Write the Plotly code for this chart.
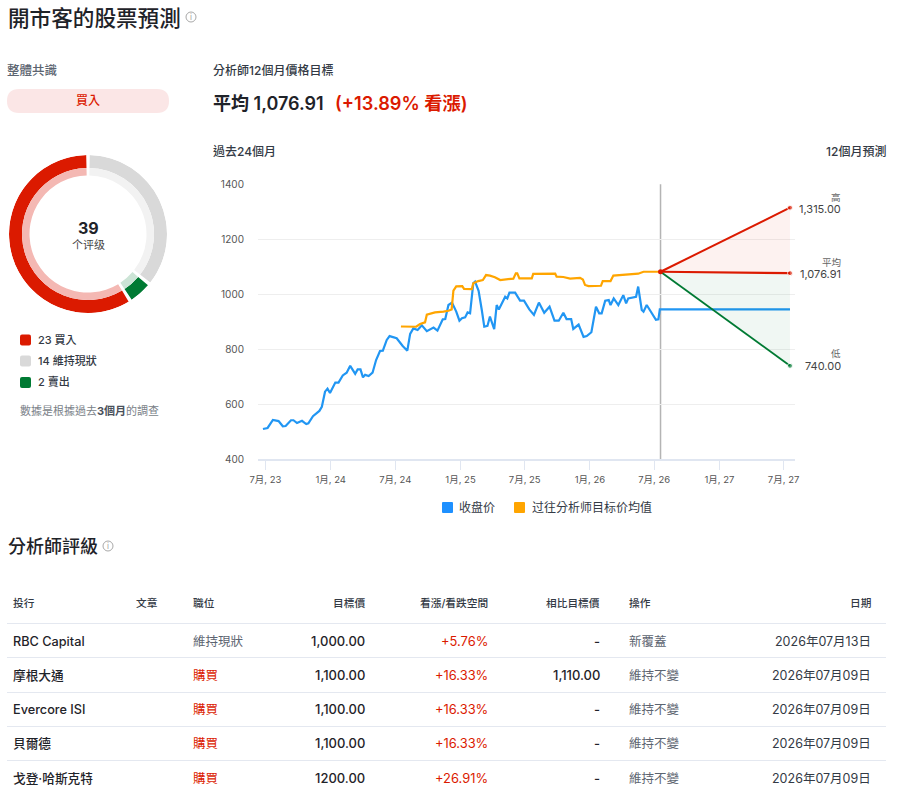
import pandas as pd
import plotly.graph_objects as go

W, H = 898, 793
FONT = "Inter, 'Noto Sans CJK TC', sans-serif"
RED = "#db1a00"
GREEN = "#007a33"
BLUE = "#2196f3"
ORANGE = "#ffa500"
INK = "#1f2329"
MUTED = "#5c6470"
RULE = "#e4e8f0"

# Consensus counts
rating_names = ["維持現狀", "賣出", "買入"]
rating_counts = [14, 2, 23]
rating_solid = ["#d9d9d9", GREEN, RED]
rating_light = ["#f2f2f2", "#cce4d6", "#f4b8b3"]

# Price history, as days after 1 July 2023
close_days = [-7, 6, 21, 27, 37, 49, 57, 72, 79, 89, 103, 115, 121, 134, 152, 159, 168, 175, 182, 197,
              206, 218, 229, 239, 253, 260, 268, 275, 281, 291, 302, 312, 323, 331, 342, 350, 370, 387, 400, 408,
              417, 429, 441, 455, 474, 485, 500, 507, 516, 526, 538, 547, 554, 563, 570, 577, 586, 591, 601, 610,
              617, 626, 633, 645, 652, 658, 676, 682, 688, 704, 718, 729, 744, 757, 771, 786, 801, 815, 827, 840,
              849, 862, 868, 883, 897, 906, 919, 932, 941, 948, 958, 968, 973, 982, 995, 1009, 1017, 1023, 1045, 1051,
              1061, 1066, 1075, 1101, 1108, 1112, 1114, 1479]
close_values = [510, 514, 543, 542, 539, 520, 521, 542, 542, 532, 540, 528, 531, 557, 576, 591, 646, 657, 641, 679,
                679, 705, 715, 740, 711, 727, 727, 698, 707, 703, 715, 761, 794, 795, 834, 848, 840, 812, 795, 856,
                876, 870, 887, 866, 879, 868, 909, 910, 961, 970, 937, 904, 913, 916, 934, 931, 1040, 1046, 1013, 943,
                882, 885, 919, 873, 961, 945, 991, 985, 1006, 1006, 977, 977, 945, 925, 970, 933, 955, 904, 904, 933,
                910, 910, 874, 890, 845, 848, 862, 955, 931, 931, 977, 979, 961, 985, 961, 997, 967, 985, 991, 1028,
                943, 937, 961, 907, 909, 945.5, 945.5, 945.5]

target_days = [382, 403, 425, 436, 450, 455, 478, 502, 516, 525, 530, 538, 555, 560, 582, 586, 600, 613, 622, 633,
               647, 662, 680, 699, 706, 710, 716, 751, 755, 817, 821, 840, 859, 887, 895, 901, 911, 946, 951, 973,
               981, 1009, 1037, 1051, 1066, 1108, 1114]
target_values = [883, 882, 882, 892, 898, 926, 934, 937, 940, 945, 1013, 1029, 1030, 1020, 1019, 1040, 1048, 1052, 1070, 1068,
                 1062, 1052, 1054, 1057, 1076, 1076, 1058, 1058, 1074, 1075, 1064, 1063, 1057, 1060, 1054, 1034, 1030, 1031, 1048, 1048,
                 1068, 1070, 1074, 1075, 1082, 1083, 1082]

# Twelve-month forecast
forecast_days = [1114, 1479]
forecast_start = 1082
forecast_high = 1315.00
forecast_mean = 1076.91
forecast_low = 740.00

x_tick_dates = ["2023-07-01", "2024-01-01", "2024-07-01", "2025-01-01", "2025-07-01",
                "2026-01-01", "2026-07-01", "2027-01-01", "2027-07-01"]
x_tick_labels = ["7月, 23", "1月, 24", "7月, 24", "1月, 25", "7月, 25", "1月, 26", "7月, 26", "1月, 27", "7月, 27"]
y_tick_values = [400, 600, 800, 1000, 1200, 1400]

# Analyst table
table_headers = ["投行", "文章", "職位", "目標價", "看漲/看跌空間", "相比目標價", "操作", "日期"]
firms = ["RBC Capital", "摩根大通", "Evercore ISI", "貝爾德", "戈登·哈斯克特"]
positions = ["維持現狀", "購買", "購買", "購買", "購買"]
targets = ["1,000.00", "1,100.00", "1,100.00", "1,100.00", "1200.00"]
upsides = ["+5.76%", "+16.33%", "+16.33%", "+16.33%", "+26.91%"]
prior_targets = ["-", "1,110.00", "-", "-", "-"]
actions = ["新覆蓋", "維持不變", "維持不變", "維持不變", "維持不變"]
dates = ["2026年07月13日", "2026年07月09日", "2026年07月09日", "2026年07月09日", "2026年07月09日"]


def to_dates(days):
    return pd.Timestamp("2023-07-01") + pd.to_timedelta(days, unit="D")


def px(x):
    return x / W


def py(y):
    return 1 - y / H


annotations = []
shapes = []


def label(x, y, text, size=12, color=INK, weight=400, anchor="left"):
    annotations.append(dict(
        x=px(x), y=py(y), xref="paper", yref="paper", xanchor=anchor, yanchor="middle",
        text=text, showarrow=False, borderpad=0, borderwidth=0,
        font=dict(family=FONT, size=size, color=color, weight=weight),
    ))


def rounded(x0, y0, x1, y1, r, color):
    path = (f"M {px(x0 + r)} {py(y0)} L {px(x1 - r)} {py(y0)} Q {px(x1)} {py(y0)} {px(x1)} {py(y0 + r)} "
            f"L {px(x1)} {py(y1 - r)} Q {px(x1)} {py(y1)} {px(x1 - r)} {py(y1)} "
            f"L {px(x0 + r)} {py(y1)} Q {px(x0)} {py(y1)} {px(x0)} {py(y1 - r)} "
            f"L {px(x0)} {py(y0 + r)} Q {px(x0)} {py(y0)} {px(x0 + r)} {py(y0)} Z")
    shapes.append(dict(type="path", path=path, xref="paper", yref="paper",
                       fillcolor=color, line=dict(width=0), layer="below"))


def info_icon(x, y):
    shapes.append(dict(type="circle", xref="paper", yref="paper",
                       x0=px(x - 5), x1=px(x + 5), y0=py(y + 5), y1=py(y - 5),
                       line=dict(color="#a8a8a8", width=1)))
    label(x, y, "i", size=8, color="#a0a0a0", anchor="center")


def hrule(y):
    shapes.append(dict(type="line", xref="paper", yref="paper", x0=px(7), x1=px(886), y0=py(y), y1=py(y),
                       line=dict(color=RULE, width=1)))


fig = go.Figure()

# Price chart
fig.add_trace(go.Scatter(x=to_dates(close_days), y=close_values, mode="lines", name="收盘价",
                         line=dict(color=BLUE, width=2.2), xaxis="x", yaxis="y"))
fig.add_trace(go.Scatter(x=to_dates(target_days), y=target_values, mode="lines", name="过往分析师目标价均值",
                         line=dict(color=ORANGE, width=2.2), xaxis="x", yaxis="y"))
fig.add_trace(go.Scatter(x=to_dates(forecast_days), y=[forecast_start, forecast_high], mode="lines+markers",
                         line=dict(color=RED, width=2), marker=dict(color=RED, size=[0, 5])))
fig.add_trace(go.Scatter(x=to_dates(forecast_days), y=[forecast_start, forecast_mean], mode="lines+markers",
                         line=dict(color=RED, width=2.2), marker=dict(color=RED, size=[0, 5]),
                         fill="tonexty", fillcolor="rgba(219,26,0,0.06)"))
fig.add_trace(go.Scatter(x=to_dates(forecast_days), y=[forecast_start, forecast_low], mode="lines+markers",
                         line=dict(color=GREEN, width=1.8), marker=dict(color=GREEN, size=[0, 5]),
                         fill="tonexty", fillcolor="rgba(0,122,51,0.06)"))
fig.add_trace(go.Scatter(x=to_dates(forecast_days[:1]), y=[forecast_start], mode="markers",
                         marker=dict(color=RED, size=5)))

# Consensus ring: angles follow the counts, with a small gap between sectors
total = sum(rating_counts)
spans = [c / total * 360 for c in rating_counts]
centres = [sum(spans[:i]) + spans[i] / 2 for i in range(len(spans))]
gap = 2.6
widths = [s - gap for s in spans]
fig.add_trace(go.Barpolar(theta=centres, width=widths, base=[66] * 3, r=[13] * 3,
                          marker=dict(color=rating_solid, line=dict(width=0)), subplot="polar"))
fig.add_trace(go.Barpolar(theta=centres, width=widths, base=[58.5] * 3, r=[7.5] * 3,
                          marker=dict(color=rating_light, line=dict(width=0)), subplot="polar"))

# Header texts
label(8, 18.5, "開市客的股票預測", size=21.6, color=INK, weight=500)
info_icon(191, 17)
label(7, 71, "整體共識", size=12.5, color=MUTED, weight=500)
rounded(7, 89, 169, 113, 12, "#fbe6e6")
label(88, 100.5, "買入", size=12, color=RED, weight=500, anchor="center")
label(213, 71, "分析師12個月價格目標", size=12, color="#333a45", weight=500)
label(213, 103, "平均 1,076.91", size=18, color=INK, weight=600)
label(334.5, 103, "(+13.89% 看漲)", size=18.2, color=RED, weight=600)
label(213, 152, "過去24個月", size=12, color="#333a45", weight=500)
label(886, 152, "12個月預測", size=12, color="#333a45", weight=500, anchor="right")

# Ring centre and legend
label(88, 228, str(total), size=16, color=INK, weight=700, anchor="center")
label(88, 245, "个评级", size=11, color="#444", anchor="center")
legend_rows = [(340, 2), (361, 0), (382.5, 1)]
for y, i in legend_rows:
    rounded(20, y - 5.5, 31, y + 5.5, 2, rating_solid[i])
    label(38, y, f"{rating_counts[i]} {rating_names[i]}", size=11, color="#333a45", weight=500)
label(20, 411, '數據是根據過去<b style="color:#4a505a">3個月</b>的調查', size=11, color="#7a7f88")

# Forecast end labels
for y, caption, value in [(197, "高", forecast_high), (262, "平均", forecast_mean), (354, "低", forecast_low)]:
    label(841, y, caption, size=9.5, color="#666", anchor="right")
    label(841, y + 12, f"{value:,.2f}", size=11, color="#444", anchor="right")

# Chart legend
rounded(442, 502, 453, 513, 1, "#1e90ff")
label(459, 507.5, "收盘价", size=12, color="#333a45")
rounded(514, 502, 525, 513, 1, ORANGE)
label(532, 507.5, "过往分析师目标价均值", size=12, color="#333a45")

# Analyst table
label(8, 546, "分析師評級", size=18, color=INK, weight=500)
info_icon(108, 546)
header_columns = [(13, "left"), (136, "left"), (193, "left"), (365, "right"), (488, "right"), (600, "right"), (629, "left"), (871, "right")]
for (x, anchor), text in zip(header_columns, table_headers):
    label(x, 603, text, size=10.7, color="#333a45", weight=500, anchor=anchor)
for y in [623.5, 657.5, 692.5, 726.5, 760.5]:
    hrule(y)
row_y = [641, 675, 709, 743, 778]
for i, y in enumerate(row_y):
    label(13, y, firms[i], size=12.7, color=INK, weight=500)
    label(193, y, positions[i], size=12.5, color=RED if positions[i] == "購買" else MUTED)
    label(365, y, targets[i], size=13, color=INK, weight=500, anchor="right")
    label(488, y, upsides[i], size=12.9, color=RED, anchor="right")
    label(600, y, prior_targets[i], size=13, color=INK, weight=500, anchor="right")
    label(629, y, actions[i], size=12.5, color=MUTED)
    label(871, y, dates[i], size=12.5, color="#333a45", anchor="right")

# Divider between history and forecast
shapes.append(dict(type="line", xref="x", yref="y domain",
                   x0=to_dates(forecast_days[:1])[0], x1=to_dates(forecast_days[:1])[0], y0=0, y1=1,
                   line=dict(color="#b4b4b4", width=1.5), layer="below"))

fig.update_layout(
    width=W, height=H, margin=dict(l=0, r=0, t=0, b=0, autoexpand=False),
    paper_bgcolor="white", plot_bgcolor="white", showlegend=False, hovermode=False,
    font=dict(family=FONT),
    annotations=annotations, shapes=shapes,
    xaxis=dict(
        type="date", domain=[px(258), px(795.3)], anchor="y",
        range=["2023-06-10", "2027-08-03"],
        tickmode="array", tickvals=x_tick_dates, ticktext=x_tick_labels,
        showgrid=False, zeroline=False, showline=True, linecolor="#e0e6f1", linewidth=1.5,
        ticks="outside", ticklen=9, tickcolor="#e0e6f1", tickwidth=1, ticklabelstandoff=2,
        tickfont=dict(size=9.5, color="#555", family=FONT), tickangle=0,
    ),
    yaxis=dict(
        domain=[py(459.3), py(184.3)], anchor="x", range=[400, 1400],
        tickmode="array", tickvals=y_tick_values,
        showgrid=True, gridcolor="#eeeeee", gridwidth=1, zeroline=False, showline=False,
        ticks="", ticklabelstandoff=13,
        tickfont=dict(size=10, color="#555", family=FONT),
    ),
    polar=dict(
        domain=dict(x=[px(88 - 79), px(88 + 79)], y=[py(234 + 79), py(234 - 79)]),
        bgcolor="rgba(0,0,0,0)", barmode="overlay",
        radialaxis=dict(visible=False, range=[0, 79]),
        angularaxis=dict(visible=False, direction="clockwise", rotation=90),
    ),
)

fig.write_html("out.html", config=dict(displayModeBar=False))
